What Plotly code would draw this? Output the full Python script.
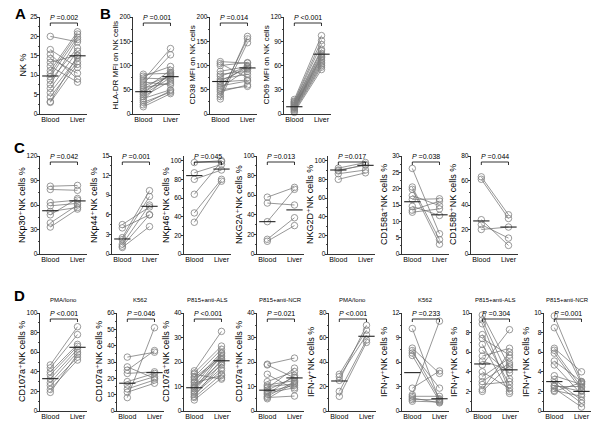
import plotly.graph_objects as go

W, H = 600, 431
FONT = "Arial, Liberation Sans, DejaVu Sans, sans-serif"
groups = ["Blood", "Liver"]

# ---- Panel A: NK %
A_blood = [20.0, 16.6, 15.4, 14.3, 13.3, 12.3, 11.2, 10.4, 9.6, 8.7, 7.6, 6.6, 5.5, 4.4, 3.2, 3.0]
A_liver = [18.6, 12.0, 9.0, 10.5, 15.2, 8.2, 21.2, 20.6, 19.8, 17.0, 19.2, 16.2, 14.5, 13.5, 15.0, 12.8]
A_med = [9.8, 15.0]
# ---- Panel B
B1_blood = [82, 78, 74, 70, 66, 62, 58, 54, 50, 46, 43, 40, 36, 32, 28, 24, 19, 15]
B1_liver = [84, 98, 72, 135, 60, 122, 78, 64, 90, 80, 82, 75, 68, 50, 86, 45, 48, 42]
B1_med = [46, 77]
B2_blood = [108, 104, 100, 88, 82, 78, 72, 68, 66, 62, 58, 54, 50, 46, 40, 36, 31]
B2_liver = [105, 75, 106, 98, 88, 97, 82, 95, 70, 100, 68, 92, 57, 60, 155, 160, 147]
B2_med = [67, 95]
B3_blood = [18, 16, 15, 14, 13, 12, 11, 10, 9, 8.5, 8, 7, 6, 5, 3.5, 2]
B3_liver = [97, 91, 86, 80, 78, 75, 73, 71, 70, 68, 66, 64, 62, 60, 58, 55]
B3_med = [9, 74]
# ---- Panel C
C1_blood = [83, 79, 63, 59, 52, 48, 38, 33]
C1_liver = [84, 78, 66, 62, 57, 68, 60, 55]
C1_med = [53, 65]
C2_blood = [4.5, 4.0, 2.5, 2.2, 1.5, 1.2, 1.0]
C2_liver = [7.2, 6.0, 9.7, 8.8, 7.5, 6.0, 4.2]
C2_med = [2.3, 7.3]
C3_blood = [98, 87, 80, 64, 44, 34]
C3_liver = [100, 96, 90, 99, 80, 78]
C3_med = [84, 91]
C4_blood = [58, 52, 33, 15, 13]
C4_liver = [68, 50, 66, 37, 29]
C4_med = [33, 45]
C5_blood = [92, 90, 89, 86, 80]
C5_liver = [98, 95, 96, 90, 87]
C5_med = [90, 95]
C6_blood = [26.2, 20.5, 19.8, 17.9, 16.7, 14.6, 13.4, 12.8]
C6_liver = [6.2, 4.4, 3.0, 14.8, 16.9, 11.8, 16.2, 13.8]
C6_med = [16, 12]
C7_blood = [63, 61, 28, 24, 20]
C7_liver = [32, 29, 7, 13, 22]
C7_med = [27, 22]
# ---- Panel D
D1_blood = [47, 44, 40, 37, 33, 29, 26, 22, 19]
D1_liver = [86, 78, 68, 66, 63, 60, 55, 52, 58]
D1_med = [33, 65]
D2_blood = [33, 27, 25, 23, 18, 16, 13.5, 11.5, 8.2]
D2_liver = [36, 20, 37, 24, 23, 21, 19, 17, 51]
D2_med = [17, 23.5]
D3_blood = [16.4, 15.5, 15.0, 14.0, 13.6, 12.8, 12.0, 11.5, 10.6, 10.0, 9.5, 9.0, 8.2, 7.5, 6.8, 6.0, 5.5, 4.5]
D3_liver = [32.5, 26.5, 13.0, 25.2, 22.2, 21.5, 24.0, 14.5, 23.5, 20.2, 18.8, 22.8, 21.0, 17.5, 16.5, 19.5, 15.0, 13.5]
D3_med = [9.5, 20.5]
D4_blood = [19.1, 18.8, 15.0, 12.0, 10.6, 10.0, 9.3, 8.5, 7.9, 7.3, 6.8, 6.0, 5.5, 5.0]
D4_liver = [21.6, 13.5, 8.8, 16.1, 12.4, 11.0, 17.5, 13.8, 10.5, 9.5, 14.5, 12.0, 6.1, 11.5]
D4_med = [8.5, 13.5]
D5_blood = [30, 28, 25, 16, 12]
D5_liver = [66, 62, 70, 58, 56]
D5_med = [24.5, 61]
D6_blood = [10.1, 7.7, 7.4, 7.1, 6.8, 2.8, 2.0, 1.8, 1.6, 1.4, 1.2]
D6_liver = [1.3, 4.6, 1.5, 2.8, 1.2, 4.9, 11.0, 1.8, 1.0, 1.4, 1.1]
D6_med = [4.7, 1.5]
D7_blood = [9.8, 9.3, 8.9, 7.8, 7.4, 6.8, 6.2, 5.6, 5.1, 4.7, 4.0, 3.5, 3.0, 2.7, 2.2, 2.0]
D7_liver = [4.5, 3.3, 2.0, 2.7, 5.7, 1.8, 3.9, 6.4, 4.2, 8.3, 2.3, 5.4, 4.9, 3.0, 6.0, 4.7]
D7_med = [4.8, 4.2]
D8_blood = [9.7, 8.5, 6.4, 6.2, 5.9, 5.1, 4.7, 3.6, 3.2, 2.9, 2.6, 2.5, 2.3, 2.1, 2.0]
D8_liver = [3.0, 2.8, 4.0, 2.4, 2.1, 3.0, 1.7, 2.7, 1.1, 0.8, 2.0, 2.5, 0.4, 1.5, 2.9]
D8_med = [3.0, 2.0]

SUP = "\u207a"
y_titles = {
    "A": "NK %",
    "B1": "HLA-DR MFI on NK cells", "B2": "CD38 MFI on NK cells", "B3": "CD69 MFI on NK cells",
    "C1": f"NKp30{SUP}NK cells %", "C2": f"NKp44{SUP}NK cells %",
    "C3": f"NKp46{SUP}NK cells %", "C4": f"NKG2A{SUP}NK cells %",
    "C5": f"NKG2D{SUP}NK cells %", "C6": f"CD158a{SUP}NK cells %",
    "C7": f"CD158b{SUP}NK cells %",
}
for k in ["D1", "D2", "D3", "D4"]:
    y_titles[k] = f"CD107a{SUP}NK cells %"
for k in ["D5", "D6", "D7", "D8"]:
    y_titles[k] = f"IFN-\u03b3{SUP}NK cells %"

p_values = {
    "A": "=0.002", "B1": "=0.001", "B2": "=0.014", "B3": "<0.001",
    "C1": "=0.042", "C2": "=0.001", "C3": "=0.045", "C4": "=0.013",
    "C5": "=0.017", "C6": "=0.038", "C7": "=0.044",
    "D1": "<0.001", "D2": "=0.046", "D3": "<0.001", "D4": "=0.021",
    "D5": "<0.001", "D6": "=0.233", "D7": "=0.304", "D8": "=0.001",
}
conditions = {"D1": "PMA/Iono", "D2": "K562", "D3": "P815+anti-ALS", "D4": "P815+anti-NCR",
              "D5": "PMA/Iono", "D6": "K562", "D7": "P815+anti-ALS", "D8": "P815+anti-NCR"}

# layout spec: key, data, axis-left px, row, ymax, dtick, title font
rows = {1: (17, 114), 2: (156, 254), 3: (313, 411)}
panels = [
    ("A", A_blood, A_liver, A_med, 40, 1, 25, 5, 9),
    ("B1", B1_blood, B1_liver, B1_med, 133, 1, 200, 50, 8),
    ("B2", B2_blood, B2_liver, B2_med, 210, 1, 200, 50, 8),
    ("B3", B3_blood, B3_liver, B3_med, 284, 1, 120, 30, 8),
    ("C1", C1_blood, C1_liver, C1_med, 40, 2, 120, 30, 9),
    ("C2", C2_blood, C2_liver, C2_med, 112, 2, 15, 3, 9),
    ("C3", C3_blood, C3_liver, C3_med, 184, 2, 105, 20, 9),
    ("C4", C4_blood, C4_liver, C4_med, 257, 2, 100, 20, 9),
    ("C5", C5_blood, C5_liver, C5_med, 328, 2, 105, 20, 9),
    ("C6", C6_blood, C6_liver, C6_med, 402, 2, 30, 5, 9),
    ("C7", C7_blood, C7_liver, C7_med, 471, 2, 80, 20, 9),
    ("D1", D1_blood, D1_liver, D1_med, 40, 3, 100, 20, 9),
    ("D2", D2_blood, D2_liver, D2_med, 117, 3, 60, 10, 9),
    ("D3", D3_blood, D3_liver, D3_med, 184, 3, 40, 10, 9),
    ("D4", D4_blood, D4_liver, D4_med, 257, 3, 40, 10, 9),
    ("D5", D5_blood, D5_liver, D5_med, 329, 3, 80, 20, 9),
    ("D6", D6_blood, D6_liver, D6_med, 402, 3, 12, 3, 9),
    ("D7", D7_blood, D7_liver, D7_med, 472, 3, 10, 2, 9),
    ("D8", D8_blood, D8_liver, D8_med, 544, 3, 10, 2, 9),
]

PW = 47  # panel width in px
XR = [0.62, 2.35]

fig = go.Figure()
layout = dict(width=W, height=H, margin=dict(l=0, r=0, t=0, b=0),
              paper_bgcolor="white", plot_bgcolor="white", template="none",
              showlegend=False, font=dict(family=FONT, color="black"))
annotations, shapes = [], []

for i, (key, blood, liver, med, x0, row, ymax, dtick, tsize) in enumerate(panels, start=1):
    xn = "x" if i == 1 else f"x{i}"
    yn = "y" if i == 1 else f"y{i}"
    top, bot = rows[row]
    xs, ys = [], []
    for b, l in zip(blood, liver):
        xs += [1, 2, None]
        ys += [b, l, None]
    fig.add_trace(go.Scatter(
        x=xs, y=ys, mode="lines+markers", xaxis=xn, yaxis=yn, hoverinfo="skip",
        line=dict(color="#6a6a6a", width=0.7),
        marker=dict(symbol="circle-open", size=6.5, color="#808080", line=dict(width=0.8)),
        cliponaxis=False))
    fig.add_trace(go.Scatter(
        x=[0.7, 1.3, None, 1.7, 2.3], y=[med[0], med[0], None, med[1], med[1]],
        mode="lines", xaxis=xn, yaxis=yn, hoverinfo="skip",
        line=dict(color="#222", width=1.1)))
    layout["xaxis" if i == 1 else f"xaxis{i}"] = dict(
        domain=[x0 / W, (x0 + PW) / W], range=XR, anchor=yn,
        tickmode="array", tickvals=[1, 2], ticktext=groups, ticks="",
        showline=True, linecolor="black", linewidth=0.8, mirror=False,
        showgrid=False, zeroline=False, fixedrange=True, ticklabelstandoff=-1,
        tickfont=dict(size=7, family=FONT, color="black"))
    layout["yaxis" if i == 1 else f"yaxis{i}"] = dict(
        domain=[1 - bot / H, 1 - top / H], range=[0, ymax], anchor=xn,
        tick0=0, dtick=dtick, ticks="outside", ticklen=2.5, tickwidth=0.8, tickcolor="black",
        showline=True, linecolor="black", linewidth=0.8, showgrid=False, zeroline=False,
        ticklabelstandoff=-2,
        tickfont=dict(size=6.5, family=FONT, color="black"),
        minor=dict(ticks="outside", ticklen=1.5, tickwidth=0.7, tickcolor="black",
                   dtick=dtick / 2, tick0=0, showgrid=False),
        fixedrange=True)
    # y-axis title
    annotations.append(dict(
        x=(x0 - 18) / W, y=1 - (top + bot) / 2 / H, xref="paper", yref="paper",
        text=y_titles[key], textangle=-90, showarrow=False,
        xanchor="center", yanchor="middle", font=dict(size=tsize, family=FONT, color="black")))
    # significance bracket
    d = 1 - 6 / (bot - top)
    dd = 3 / (bot - top)
    shapes.append(dict(type="path", xref=xn, yref=f"{yn} domain",
                       path=f"M 1,{d - dd} L 1,{d} L 2,{d} L 2,{d - dd}",
                       line=dict(color="black", width=0.8)))
    pv = p_values[key].replace("<", "&lt;")
    annotations.append(dict(
        x=1.5, y=d + 0.005, xref=xn, yref=f"{yn} domain", text=f"<i>P</i> {pv}",
        showarrow=False, xanchor="center", yanchor="bottom",
        font=dict(size=7, family=FONT, color="black")))
    if key in conditions:
        annotations.append(dict(
            x=1.5, y=1 - (top - 13) / H, xref=xn, yref="paper", text=conditions[key],
            showarrow=False, xanchor="center", yanchor="middle",
            font=dict(size=6, family=FONT, color="black")))

for letter, px, py in [("A", 20, 13), ("B", 105, 13), ("C", 19, 147), ("D", 19, 295)]:
    annotations.append(dict(x=px / W, y=1 - py / H, xref="paper", yref="paper", text=f"<b>{letter}</b>",
                            showarrow=False, xanchor="center", yanchor="middle",
                            font=dict(size=15, family=FONT, color="black")))

layout["annotations"] = annotations
layout["shapes"] = shapes
fig.update_layout(**layout)
fig.write_html("out.html", config={"displayModeBar": False, "staticPlot": True},
               post_script="document.body.style.margin='0';document.body.style.overflow='hidden';")
